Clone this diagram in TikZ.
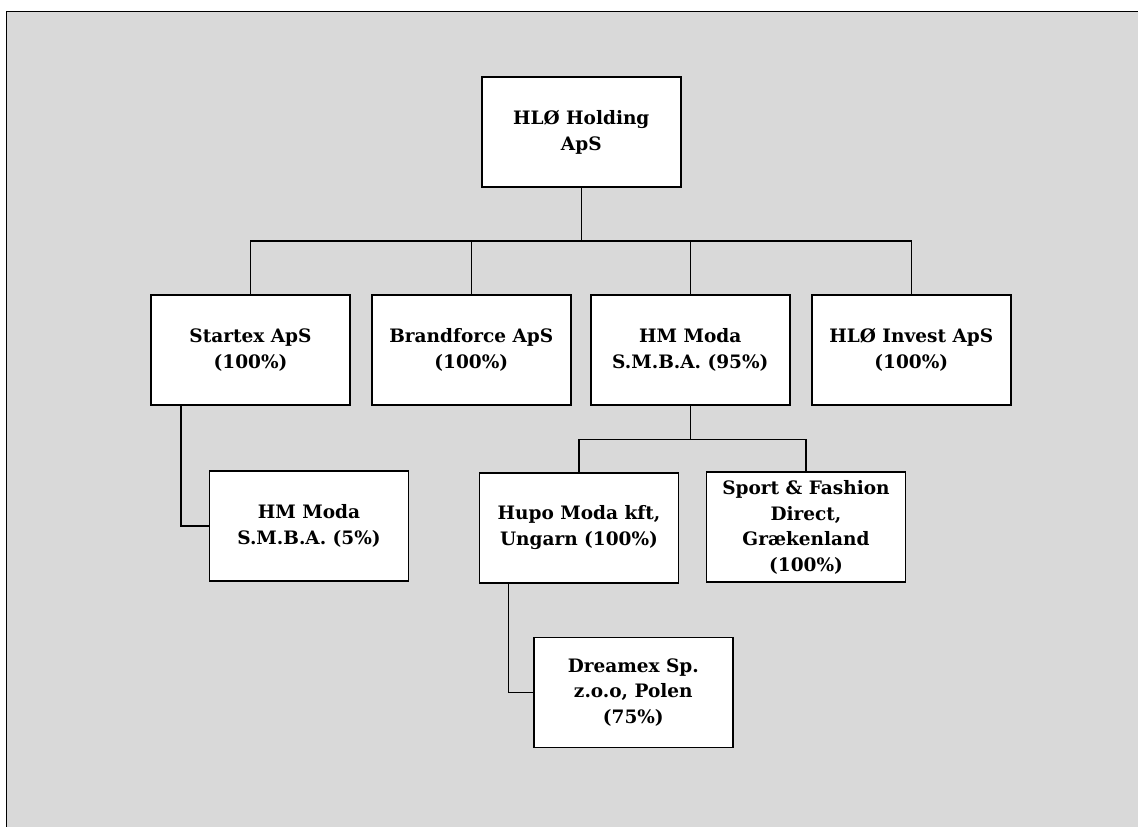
\documentclass[tikz,border=0pt]{standalone}
\usepackage{fontspec}
\setmainfont{DejaVu Serif}
\usetikzlibrary{calc, positioning}
\definecolor{sheet}{HTML}{D9D9D9}

\begin{document}
\begin{tikzpicture}[x=1pt, y=-1pt,
  firm/.style={draw, fill=white, line width=1.8pt, minimum width=199pt, minimum height=110pt, inner sep=1pt, align=center, font=\bfseries\fontsize{18.5}{25.7}\selectfont},
  link/.style={line width=1.6pt}]
\useasboundingbox (0,0) rectangle (1138,827);
\draw[line width=1.8pt, fill=sheet] (6.5,11.5) rectangle (1200,900);
\coordinate (bus) at (0,240.7);
\coordinate (sub) at (0,439.5);
\node[firm] (holding) at (581.3,132.3) {HLØ Holding\\ApS};
\node[firm] (startex) at (250.5,349.9) {Startex ApS\\(100\%)};
\node[firm] (brandforce) at (471.3,349.9) {Brandforce ApS\\(100\%)};
\node[firm] (hmmoda) at (690.3,349.9) {HM Moda\\S.M.B.A. (95\%)};
\node[firm] (invest) at (911.3,349.9) {HLØ Invest ApS\\(100\%)};
\node[firm] (hmmoda5) at (309,525.7) {HM Moda\\S.M.B.A. (5\%)};
\node[firm] (hupo) at (579,527.7) {Hupo Moda kft,\\Ungarn (100\%)};
\node[firm] (sport) at (806,527.3) {Sport \& Fashion\\Direct,\\Grækenland\\(100\%)};
\node[firm] (dreamex) at (633.3,692.5) {Dreamex Sp.\\z.o.o, Polen\\(75\%)};
\draw[link] (holding.south) -- (holding.south |- bus);
\draw[link] (holding.south |- bus) -| (startex.north);
\draw[link] (holding.south |- bus) -| (brandforce.north);
\draw[link] (holding.south |- bus) -| (hmmoda.north);
\draw[link] (holding.south |- bus) -| (invest.north);
\draw[link] (hmmoda.south) -- (hmmoda.south |- sub);
\draw[link] (hmmoda.south |- sub) -| (hupo.north);
\draw[link] (hmmoda.south |- sub) -| (sport.north);
\draw[link] ($(startex.south west)+(31,0)$) |- (hmmoda5.west);
\draw[link] ($(hupo.south west)+(30,0)$) |- (dreamex.west);
\end{tikzpicture}
\end{document}
